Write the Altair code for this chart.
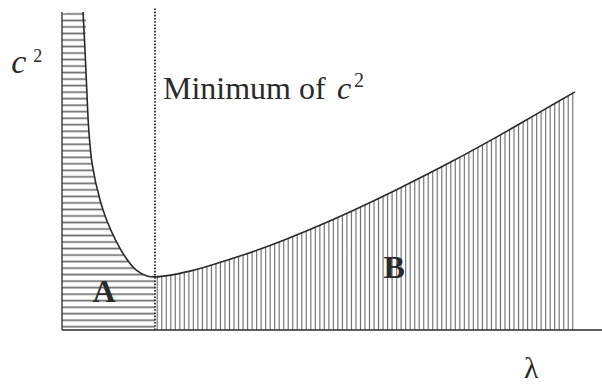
import altair as alt
import pandas as pd

# c^2 as a function of lambda: steep fall on the left, slow rise after the minimum
lam = [0.389, 0.426, 0.459, 0.496, 0.561, 0.704, 0.826, 0.993, 1.185, 1.370, 1.574, 1.722,
       2.37, 3.11, 3.85, 4.59, 5.33, 6.26, 7.19, 8.11, 8.85, 9.50]
c2 = [9.94, 8.75, 7.50, 6.25, 5.16, 4.06, 3.44, 2.81, 2.25, 1.88, 1.69, 1.66,
      1.84, 2.21, 2.64, 3.14, 3.69, 4.44, 5.24, 6.09, 6.81, 7.44]
lam_min = 1.722         # position of the minimum of c^2
a_top = 9.88            # flat top edge of region A at the left axis
axis_top = 9.94
dotted_top = 10.06

curve = pd.DataFrame({"lam": lam, "c2": c2})
region_a = pd.DataFrame({
    "lam": [0.0] + [l for l in lam if l <= lam_min],
    "c2": [a_top] + [c for l, c in zip(lam, c2) if l <= lam_min],
})
region_b = curve[curve["lam"] >= lam_min].reset_index(drop=True)

xs = alt.Scale(domain=[0, 10], nice=False, zero=False)
ys = alt.Scale(domain=[0, 10.3125], nice=False, zero=False)
X = lambda f="lam": alt.X(f"{f}:Q", scale=xs, axis=None)
Y = lambda f="c2": alt.Y(f"{f}:Q", scale=ys, axis=None)

INK = "#2a2a2a"
HATCH = "#6e6e6e"
SERIF = "Liberation Serif"
SMOOTH = "catmull-rom"


def stripes(n, horizontal):
    """Striped gradient imitating a line-hatched fill."""
    stops = []
    for k in range(n):
        base = k / n
        p = 1.0 / n
        for frac, col in ((0.0, "#ffffff"), (0.24, "#ffffff"), (0.5, HATCH), (0.76, "#ffffff")):
            stops.append(alt.GradientStop(color=col, offset=round(min(base + frac * p, 1.0), 5)))
    stops.append(alt.GradientStop(color="#ffffff", offset=1.0))
    if horizontal:
        return alt.LinearGradient(gradient="linear", stops=stops, x1=0, x2=0, y1=0, y2=1)
    return alt.LinearGradient(gradient="linear", stops=stops, x1=0, x2=1, y1=0, y2=0)


area_a = alt.Chart(region_a).mark_area(fill=stripes(49, True), interpolate=SMOOTH).encode(
    x=X(), y=Y(), y2=alt.datum(0))
area_b = alt.Chart(region_b).mark_area(fill=stripes(93, False), interpolate=SMOOTH).encode(
    x=X(), y=Y(), y2=alt.datum(0))

axes = alt.Chart(pd.DataFrame({"x": [0, 0], "y": [0, 0], "x2": [0, 10], "y2": [axis_top, 0]})).mark_rule(
    color=INK, strokeWidth=1.3).encode(x=X("x"), y=Y("y"), x2="x2:Q", y2="y2:Q")

dotted = alt.Chart(pd.DataFrame({"x": [lam_min], "y": [0], "y2": [dotted_top]})).mark_rule(
    color=INK, strokeWidth=1.8, strokeDash=[1.6, 1.6]).encode(x=X("x"), y=Y("y"), y2="y2:Q")

line = alt.Chart(curve).mark_line(color=INK, strokeWidth=1.6, interpolate=SMOOTH).encode(
    x=X(), y=Y())


def label(lx, ly, text, size, dx=0, dy=0, style="normal", weight="normal", align="left"):
    return alt.Chart(pd.DataFrame({"lam": [lx], "c2": [ly], "t": [text]})).mark_text(
        font=SERIF, fontSize=size, fontStyle=style, fontWeight=weight, color=INK,
        align=align, baseline="alphabetic", dx=dx, dy=dy).encode(x=X(), y=Y(), text="t:N")


labels = [
    label(-0.80, 8.03, "c", 34, style="italic", align="center"),
    label(-0.80, 8.03, "2", 18, dx=19, dy=-11, align="center"),
    label(1.87, 7.22, "Minimum of ", 32),
    label(1.87, 7.22, "c", 32, dx=174, style="italic"),
    label(1.87, 7.22, "2", 20, dx=191, dy=-12),
    label(0.78, 0.875, "A", 32, weight="bold", align="center"),
    label(6.15, 1.625, "B", 32, weight="bold", align="center"),
    label(8.69, -1.50, "λ", 30, align="center"),
]

chart = alt.layer(area_a, area_b, axes, dotted, line, *labels).properties(
    width=540, height=330,
    autosize=alt.AutoSizeParams(type="none"),
    padding={"left": 62, "top": 0, "right": 0, "bottom": 54},
    background="white",
).configure_view(stroke=None)

chart.save("out.html", embed_options={"renderer": "svg", "actions": False})
